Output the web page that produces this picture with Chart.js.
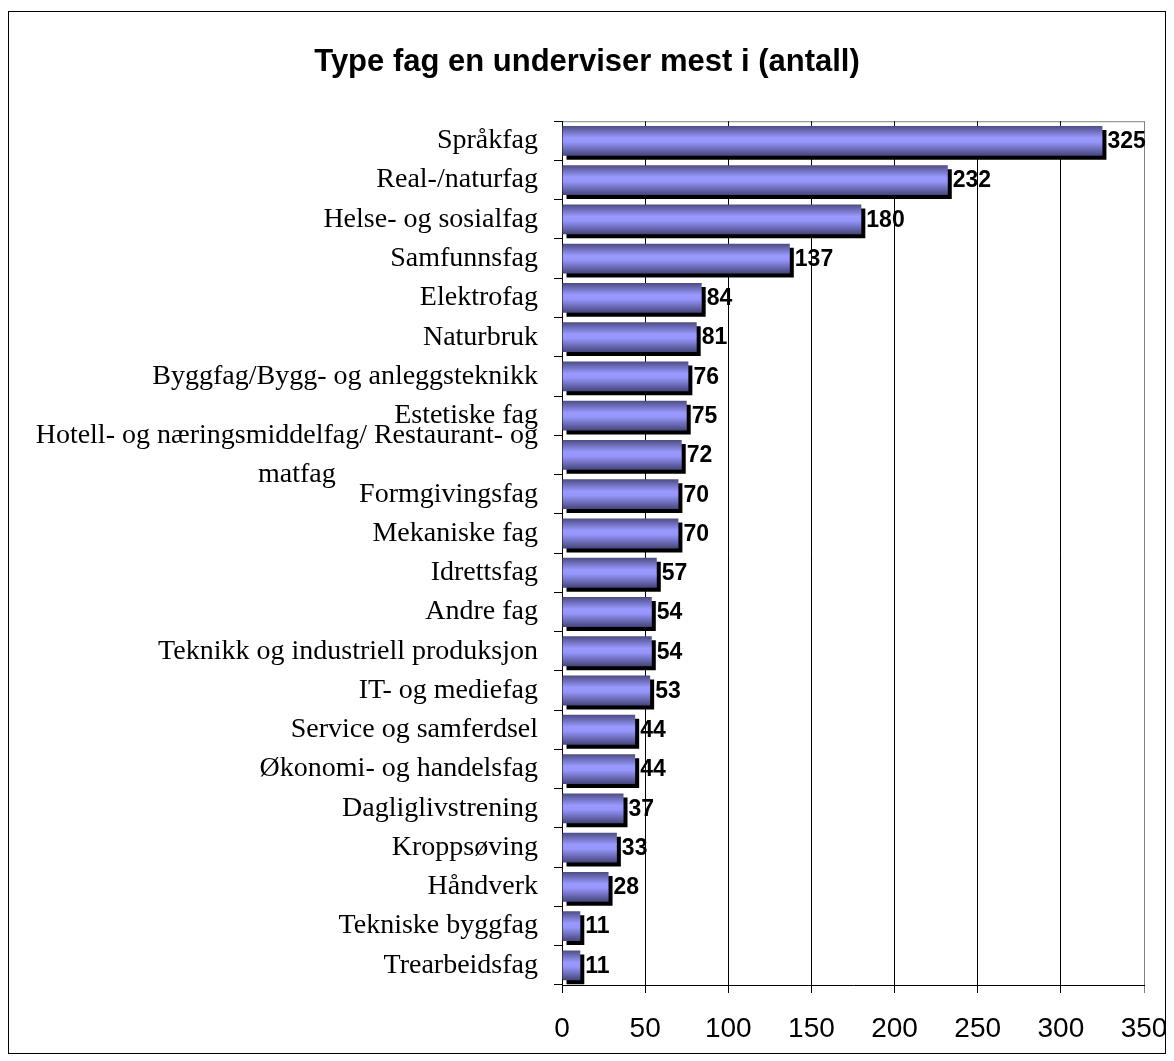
<!DOCTYPE html>
<html>
<head>
<meta charset="utf-8">
<script src="https://cdn.jsdelivr.net/npm/chart.js@4"></script>
<style>
  html, body { margin: 0; padding: 0; background: #fff; }
  #frame {
    position: absolute; left: 8px; top: 11px;
    width: 1156px; height: 1041px;
    border: 1px solid #000;
  }
</style>
</head>
<body>
<div id="frame"><canvas id="chart" width="1156" height="1041"></canvas></div>
<script>
  'use strict';

  var TITLE = 'Type fag en underviser mest i (antall)';

  var categories = [
    'Språkfag',
    'Real-/naturfag',
    'Helse- og sosialfag',
    'Samfunnsfag',
    'Elektrofag',
    'Naturbruk',
    'Byggfag/Bygg- og anleggsteknikk',
    'Estetiske fag',
    ['Hotell- og næringsmiddelfag/ Restaurant- og', 'matfag'],
    'Formgivingsfag',
    'Mekaniske fag',
    'Idrettsfag',
    'Andre fag',
    'Teknikk og industriell produksjon',
    'IT- og mediefag',
    'Service og samferdsel',
    'Økonomi- og handelsfag',
    'Dagliglivstrening',
    'Kroppsøving',
    'Håndverk',
    'Tekniske byggfag',
    'Trearbeidsfag'
  ];

  var antall = [325, 232, 180, 137, 84, 81, 76, 75, 72, 70, 70, 57, 54, 54, 53, 44, 44, 37, 33, 28, 11, 11];

  var xMin = 0, xMax = 350, xStep = 50;

  var BAR_PCT = 0.76;

  // one vertical gradient per bar, worked out from the y scale
  function barGradient(c) {
    var chart = c.chart;
    var yScale = chart.scales.y;
    if (!yScale || !chart.chartArea) return '#9999ff';
    var y = yScale.getPixelForValue(c.dataIndex);
    var half = (yScale.height / categories.length) * BAR_PCT / 2;
    var g = chart.ctx.createLinearGradient(0, y - half, 0, y + half);
    g.addColorStop(0, '#4c4c84');
    g.addColorStop(0.4, '#9999ff');
    g.addColorStop(0.55, '#9595fa');
    g.addColorStop(1, '#45457a');
    return g;
  }

  // black drop shadow + value labels
  var barLook = {
    id: 'barLook',
    beforeDatasetsDraw: function (chart) {
      var ctx = chart.ctx;
      ctx.save();
      ctx.shadowColor = '#000';
      ctx.shadowOffsetX = 4;
      ctx.shadowOffsetY = 4;
      ctx.shadowBlur = 0;
    },
    afterDatasetsDraw: function (chart) {
      var ctx = chart.ctx;
      ctx.restore();

      var meta = chart.getDatasetMeta(0);
      ctx.save();
      ctx.font = 'bold 23px "Liberation Sans", Arial, sans-serif';
      ctx.fillStyle = '#000';
      ctx.textAlign = 'left';
      ctx.textBaseline = 'middle';
      meta.data.forEach(function (bar, i) {
        ctx.fillText(String(antall[i]), bar.x + 5, bar.y + 1);
      });
      ctx.restore();
    }
  };

  // category labels, wrapped lines centred like Excel does
  var catLabels = {
    id: 'catLabels',
    beforeDraw: function (chart) {
      var ctx = chart.ctx;
      var area = chart.chartArea;
      ctx.save();
      ctx.strokeStyle = '#808080';
      ctx.lineWidth = 1;
      ctx.beginPath();
      ctx.moveTo(area.left, area.top + 0.5);
      ctx.lineTo(area.right, area.top + 0.5);
      ctx.stroke();
      ctx.restore();
    },
    afterDraw: function (chart) {
      var ctx = chart.ctx;
      var yScale = chart.scales.y;
      var right = chart.chartArea.left - 24;
      ctx.save();
      ctx.font = '28px "Liberation Serif", "Times New Roman", serif';
      ctx.fillStyle = '#000';
      ctx.textBaseline = 'middle';
      categories.forEach(function (lab, i) {
        var y = yScale.getPixelForValue(i);
        if (Array.isArray(lab)) {
          var w = Math.max.apply(null, lab.map(function (s) { return ctx.measureText(s).width; }));
          var cx = right - w / 2;
          var lh = 39;
          var y0 = y - (lab.length - 1) * lh / 2;
          ctx.textAlign = 'center';
          lab.forEach(function (s, k) {
            ctx.fillText(s, cx + (k === 0 ? 0 : 10), y0 + k * lh);
          });
        } else {
          ctx.textAlign = 'right';
          ctx.fillText(lab, right, y);
        }
      });
      ctx.restore();
    }
  };

  new Chart(document.getElementById('chart'), {
    type: 'bar',
    data: {
      labels: categories,
      datasets: [{
        label: 'Antall',
        data: antall,
        backgroundColor: barGradient,
        borderWidth: 0,
        categoryPercentage: 1,
        barPercentage: BAR_PCT
      }]
    },
    options: {
      indexAxis: 'y',
      responsive: false,
      animation: false,
      layout: { padding: 0 },
      plugins: {
        legend: { display: false },
        tooltip: { enabled: false },
        title: {
          display: true,
          text: TITLE,
          color: '#000',
          font: { family: '"Liberation Sans", Arial, sans-serif', size: 31, weight: 'bold' },
          padding: { top: 32, bottom: 40 }
        }
      },
      scales: {
        x: {
          min: xMin,
          max: xMax,
          ticks: {
            stepSize: xStep,
            color: '#000',
            padding: 19,
            font: { family: '"Liberation Sans", Arial, sans-serif', size: 28 }
          },
          grid: {
            color: function (c) {
              return c.tick && c.tick.value === xMax ? '#808080' : '#000';
            },
            lineWidth: 1,
            tickLength: 8,
            drawOnChartArea: true
          },
          border: { display: true, color: '#000', width: 1 },
          afterFit: function (scale) {
            scale.height = 68;
            scale.paddingLeft = 0;
            scale.paddingRight = 21;
          }
        },
        y: {
          ticks: { display: false },
          grid: {
            offset: true,
            drawOnChartArea: false,
            drawTicks: true,
            tickLength: 8,
            color: '#000'
          },
          border: { display: true, color: '#000', width: 1 },
          afterFit: function (scale) { scale.width = 553; }
        }
      }
    },
    plugins: [catLabels, barLook]
  });
</script>
</body>
</html>
